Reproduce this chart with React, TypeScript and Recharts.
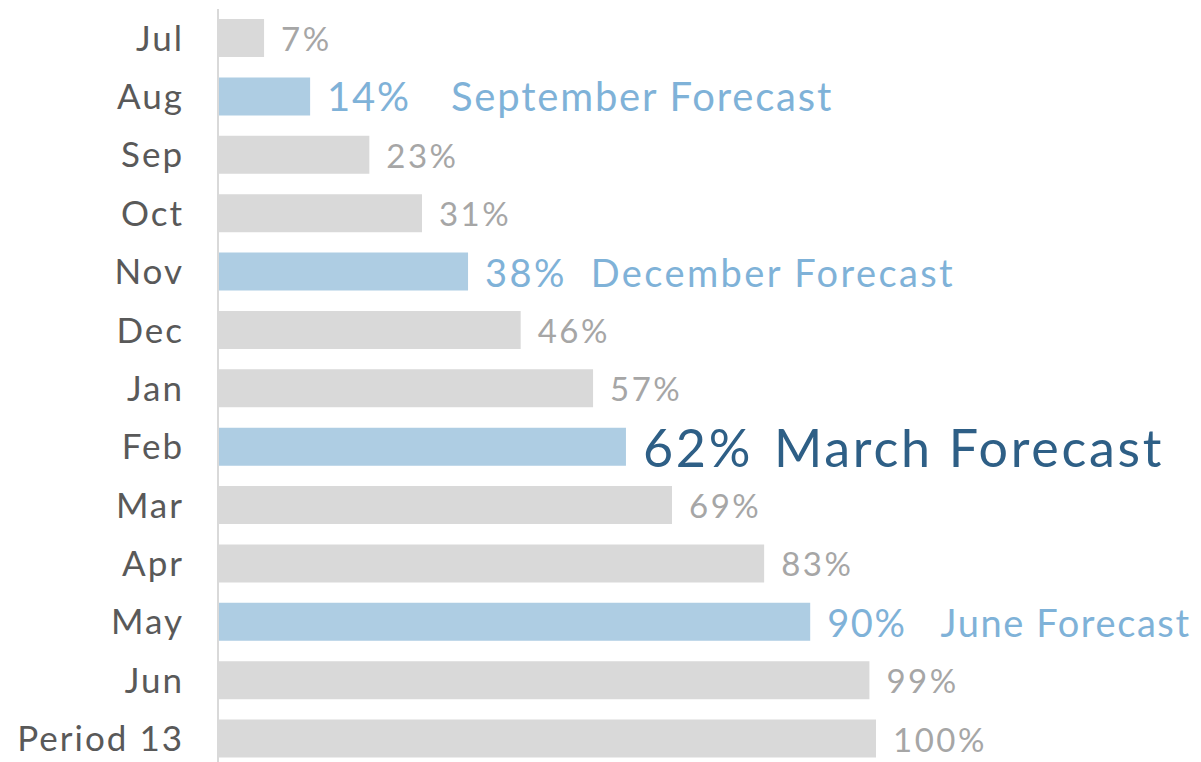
import { BarChart, Bar, XAxis, YAxis, Cell, LabelList } from "recharts"

const months = ["Jul", "Aug", "Sep", "Oct", "Nov", "Dec", "Jan", "Feb", "Mar", "Apr", "May", "Jun", "Period 13"]
const values = [7, 14, 23, 31, 38, 46, 57, 62, 69, 83, 90, 99, 100]
const notes = ["", "September Forecast", "", "", "December Forecast", "", "", "March Forecast", "", "", "June Forecast", "", ""]

const data = months.map((m, i) => ({ month: m, value: values[i], note: notes[i] }))

const FONT = "Lato, 'Open Sans', sans-serif"
const GRAY_BAR = "#d9d9d9"
const BLUE_BAR = "#aecde3"

// per-row label look for the highlighted rows
const labelStyle: Record<number, { size: number; color: string; gap: number; ls: number }> = {
  1: { size: 40, color: "#7fb2d8", gap: 40, ls: 1.8 },
  4: { size: 38, color: "#7fb2d8", gap: 24, ls: 2.4 },
  7: { size: 52, color: "#2e5f86", gap: 21, ls: 2.7 },
  10: { size: 38, color: "#7fb2d8", gap: 34, ls: 1.6 },
}
const defaultStyle = { size: 33, color: "#a6a6a6", gap: 0, ls: 2.5 }

function ValueLabel(props: any) {
  const { x, y, width, height, index, value } = props
  const st = labelStyle[index] || defaultStyle
  const note = notes[index]
  return (
    <text
      x={x + width + 17}
      y={y + height / 2}
      dominantBaseline="central"
      fontFamily={FONT}
      fontSize={st.size}
      fill={st.color}
      style={{ letterSpacing: st.ls }}
    >
      <tspan>{value}%</tspan>
      {note ? <tspan dx={st.gap}>{note}</tspan> : null}
    </text>
  )
}

export default function App() {
  return (
    <div style={{ position: "fixed", left: 0, top: 0, width: 1201, height: 762, overflow: "hidden", background: "#fff" }}>
      <BarChart
        width={1201}
        height={770}
        data={data}
        layout="vertical"
        margin={{ top: 9, right: 325, bottom: 2, left: 0 }}
      >
        <XAxis type="number" domain={[0, 100]} hide />
        <YAxis
          type="category"
          dataKey="month"
          width={218}
          axisLine={{ stroke: "#d9d9d9", strokeWidth: 2 }}
          tickLine={false}
          tickSize={0}
          tickMargin={34}
          tick={{ fill: "#595959", fontSize: 35, fontFamily: FONT, style: { letterSpacing: 2 } }}
          interval={0}
        />
        <Bar dataKey="value" barSize={38} isAnimationActive={false}>
          {data.map((d, i) => (
            <Cell key={`c-${i}`} fill={d.note ? BLUE_BAR : GRAY_BAR} />
          ))}
          <LabelList dataKey="value" content={<ValueLabel />} />
        </Bar>
      </BarChart>
    </div>
  )
}
